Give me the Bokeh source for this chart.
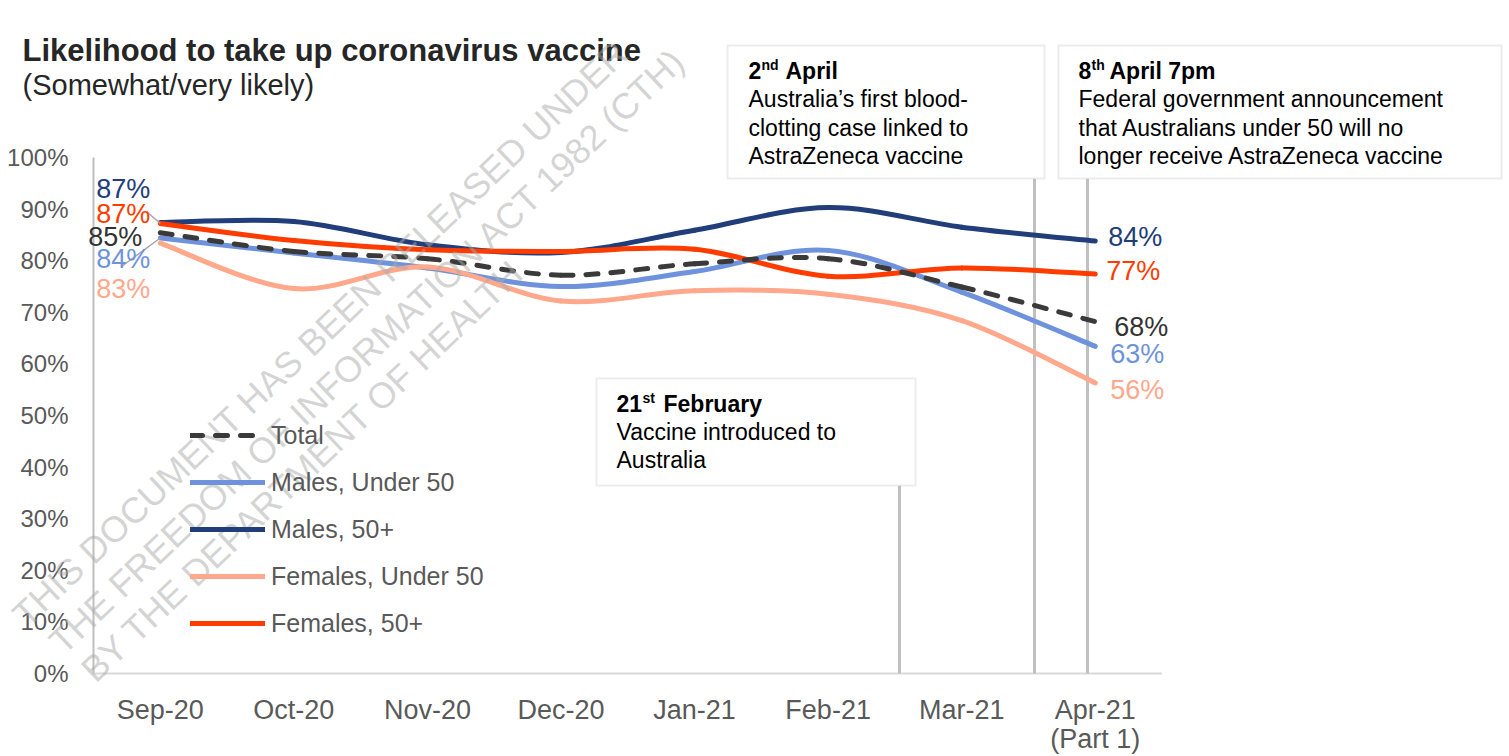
from bokeh.plotting import figure
from bokeh.models import (Range1d, FixedTicker, Label, BoxAnnotation, Legend,
                          LegendItem, ColumnDataSource, LinearAxis)
from bokeh.embed import file_html
from bokeh.resources import INLINE

# ---------------- data ----------------
months = ["Sep-20", "Oct-20", "Nov-20", "Dec-20", "Jan-21", "Feb-21", "Mar-21", "Apr-21"]
total = [85.4, 81.8, 80.4, 77.2, 79.4, 80.4, 74.9, 68.2]
males_u50 = [84.4, 81.5, 78.6, 75.0, 77.9, 82.0, 73.9, 63.4]
males_50p = [87.4, 87.6, 83.1, 81.6, 85.9, 90.3, 86.5, 83.8]
females_u50 = [83.4, 74.6, 78.8, 72.2, 74.2, 73.5, 68.4, 56.3]
females_50p = [87.2, 83.9, 82.1, 81.8, 82.2, 77.0, 78.6, 77.4]
series_names = ["Total", "Males, Under 50", "Males, 50+", "Females, Under 50", "Females, 50+"]
y_ticks = [0, 10, 20, 30, 40, 50, 60, 70, 80, 90, 100]

# ---------------- layout helpers ----------------
W, H = 1509, 756
XPPU, YPPU = 133.57, 5.16  # px per category / per percent
X_AXIS_PX = 93             # canvas x of category -0.5
ZERO_PX = 673              # canvas y of 0%


def X(px):  # picture x -> data x
    return -0.5 + (px - X_AXIS_PX) / XPPU


def Y(py):  # picture y -> data y
    return (ZERO_PX - py) / YPPU


FONT = "Liberation Sans"
GREY_TXT = "#595959"

p = figure(width=W, height=H, output_backend="svg", toolbar_location=None,
           x_range=Range1d(X(0), X(W)), y_range=Range1d(Y(H), Y(0)),
           x_axis_location=None, y_axis_location=None,
           min_border_left=0, min_border_right=0, min_border_top=0, min_border_bottom=0)
p.outline_line_color = None
p.grid.visible = False
p.background_fill_color = "white"

# axes drawn at fixed data locations
xaxis = LinearAxis(fixed_location=0, ticker=FixedTicker(ticks=list(range(len(months)))),
                   major_label_overrides={i: m for i, m in enumerate(months)})
yaxis = LinearAxis(fixed_location=-0.5, ticker=FixedTicker(ticks=y_ticks),
                   major_label_overrides={v: f"{v}%" for v in y_ticks})
for ax in (xaxis, yaxis):
    ax.axis_line_color = None
    ax.major_tick_line_color = None
    ax.minor_tick_line_color = None
    ax.major_label_text_font = FONT
    ax.major_label_text_color = GREY_TXT
xaxis.major_label_text_font_size = "27px"
xaxis.major_label_standoff = 15
yaxis.major_label_text_font_size = "24px"
yaxis.major_label_standoff = 19
p.add_layout(xaxis, "below")
p.add_layout(yaxis, "left")

# visible axis lines (only over the data extent)
p.segment(x0=[-0.5], y0=[0], x1=[-0.5], y1=[100], line_color="#bfbfbf", line_width=2)
p.segment(x0=[-0.5], y0=[0], x1=[len(months) - 0.5], y1=[0], line_color="#d9d9d9", line_width=2)

# event marker lines
ev_x = [X(899), X(1034), X(1087)]
ev_top = [Y(485), Y(178), Y(178)]
p.segment(x0=ev_x, y0=ev_top, x1=ev_x, y1=[0, 0, 0], line_color="#c0c0c0", line_width=3)


def bezier_source(ys):
    xs = list(range(len(ys)))
    n = len(ys)
    d = {k: [] for k in ("x0", "y0", "x1", "y1", "cx0", "cy0", "cx1", "cy1")}
    for i in range(n - 1):
        pm, pp = max(i - 1, 0), min(i + 2, n - 1)
        d["x0"].append(xs[i]); d["y0"].append(ys[i])
        d["x1"].append(xs[i + 1]); d["y1"].append(ys[i + 1])
        d["cx0"].append(xs[i] + (xs[i + 1] - xs[pm]) / 6)
        d["cy0"].append(ys[i] + (ys[i + 1] - ys[pm]) / 6)
        d["cx1"].append(xs[i + 1] - (xs[pp] - xs[i]) / 6)
        d["cy1"].append(ys[i + 1] - (ys[pp] - ys[i]) / 6)
    return ColumnDataSource(d)


colors = {"Total": "#3a3a3a", "Males, Under 50": "#6e93dc", "Males, 50+": "#213d7a",
          "Females, Under 50": "#ffa88c", "Females, 50+": "#ff3c00"}
values = {"Total": total, "Males, Under 50": males_u50, "Males, 50+": males_50p,
          "Females, Under 50": females_u50, "Females, 50+": females_50p}

renderers = {}
for name in ["Males, Under 50", "Males, 50+", "Females, Under 50", "Females, 50+", "Total"]:
    kw = dict(line_color=colors[name], line_width=5, line_cap="round")
    if name == "Total":
        kw["line_dash"] = "12 13"
    renderers[name] = p.bezier(x0="x0", y0="y0", x1="x1", y1="y1", cx0="cx0", cy0="cy0",
                               cx1="cx1", cy1="cy1", source=bezier_source(values[name]), **kw)

# leader lines for start labels
p.segment(x0=[X(146), X(121)], y0=[Y(211), Y(266)], x1=[0, 0],
          y1=[females_50p[0], males_u50[0]], line_color="#a6a6a6", line_width=1.5)

# legend (lower-left corner in frame pixels)
legend = Legend(items=[LegendItem(label=n, renderers=[renderers[n]]) for n in series_names],
                location=(190, H - 638), glyph_width=75, glyph_height=30, label_height=30,
                spacing=17, padding=0, margin=0, label_standoff=6,
                border_line_color=None, background_fill_alpha=0,
                label_text_font=FONT, label_text_font_size="25px", label_text_color=GREY_TXT)
p.add_layout(legend)

# start / end value labels
label_colors = {"Total": "#333333", "Males, Under 50": "#6e93dc", "Males, 50+": "#213d7a",
                "Females, Under 50": "#ffa88c", "Females, 50+": "#ff3c00"}
start_off = {"Males, 50+": (-10, 34), "Females, 50+": (-10, 10), "Total": (-18, -4),
             "Males, Under 50": (-10, -21), "Females, Under 50": (-10, -46)}
end_off = {"Males, 50+": (13, 4), "Females, 50+": (11, 3), "Total": (19, -5),
           "Males, Under 50": (15, -8), "Females, Under 50": (15, -7)}
last = len(months) - 1
for name in series_names:
    v = values[name]
    dx, dy = start_off[name]
    p.add_layout(Label(x=0, y=v[0], x_offset=dx, y_offset=dy, text=f"{round(v[0])}%",
                       text_font=FONT, text_font_size="27px", text_color=label_colors[name],
                       text_align="right", text_baseline="middle"))
    dx, dy = end_off[name]
    p.add_layout(Label(x=last, y=v[last], x_offset=dx, y_offset=dy, text=f"{round(v[last])}%",
                       text_font=FONT, text_font_size="27px", text_color=label_colors[name],
                       text_align="left", text_baseline="middle"))


def lab(text, px, py, size, color="#000000", bold=False, align="left", baseline="middle",
        angle=0, alpha=1.0):
    p.add_layout(Label(x=X(px), y=Y(py), text=text, text_font=FONT, text_font_size=f"{size}px",
                       text_color=color, text_font_style="bold" if bold else "normal",
                       text_align=align, text_baseline=baseline, angle=angle,
                       angle_units="deg", text_alpha=alpha))


# second line of last tick label
p.add_layout(Label(x=last, y=Y(738), text="(Part 1)", text_font=FONT, text_font_size="27px",
                   text_color=GREY_TXT, text_align="center", text_baseline="middle"))

# title
lab("Likelihood to take up coronavirus vaccine", 22, 50, 31, "#262626", bold=True)
lab("(Somewhat/very likely)", 22, 84, 29, "#262626")

# annotation boxes
for l, r, t, b in [(727, 1044, 45, 178), (1058, 1501, 45, 178), (596, 915, 378, 485)]:
    p.add_layout(BoxAnnotation(left=X(l), right=X(r), top=Y(t), bottom=Y(b),
                               fill_color="white", fill_alpha=1.0,
                               line_color="#c0c0c0", line_width=2))

# box 1
lab("2", 748, 70, 23, bold=True)
lab("nd", 761, 64, 14, bold=True)
lab("April", 785, 70, 23, bold=True)
lab("Australia\u2019s first blood-", 748, 98, 23)
lab("clotting case linked to", 748, 127, 23)
lab("AstraZeneca vaccine", 748, 155, 23)
# box 2
lab("8", 1078, 70, 23, bold=True)
lab("th", 1091, 64, 14, bold=True)
lab("April 7pm", 1109, 70, 23, bold=True)
lab("Federal government announcement", 1078, 98, 23)
lab("that Australians under 50 will no", 1078, 127, 23)
lab("longer receive AstraZeneca vaccine", 1078, 155, 23)
# box 3
lab("21", 616, 403, 23, bold=True)
lab("st", 642, 397, 14, bold=True)
lab("February", 663, 403, 23, bold=True)
lab("Vaccine introduced to", 616, 431, 23)
lab("Australia", 616, 459, 23)

# watermark
wm = ["THIS DOCUMENT HAS BEEN RELEASED UNDER",
      "THE FREEDOM OF INFORMATION ACT 1982 (CTH)",
      "BY THE DEPARTMENT OF HEALTH"]
for text, (cx, cy) in zip(wm, [(320, 333), (367, 350), (302, 470)]):
    lab(text, cx, cy, 36, "#aaaaaa", align="center", angle=43.5, alpha=0.5)

open("out.html", "w").write(file_html(p, INLINE))
